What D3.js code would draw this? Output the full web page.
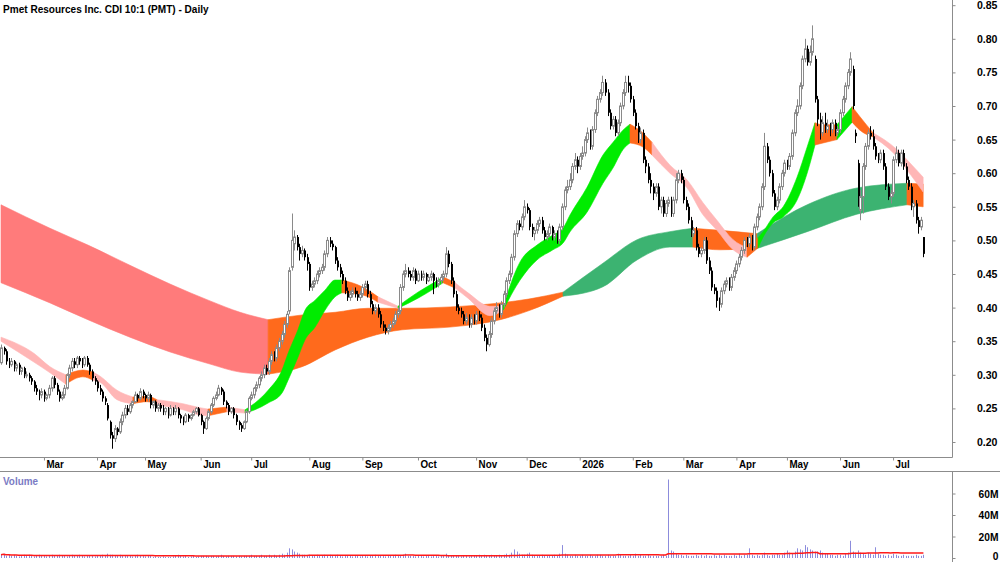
<!DOCTYPE html>
<html><head><meta charset="utf-8">
<script src="https://cdn.jsdelivr.net/npm/d3@7"></script>
<style>
body{margin:0;background:#fff;}
svg{display:block;font-family:Arial,"Liberation Sans",sans-serif;}
</style></head><body>
<svg id="c" width="1000" height="562"></svg>
<script>
// ---- daily candles (trading day index 0..365) ----
const open=[
.318,.340,.335,.320,.315,.320,.310,.315,.305,.310,
.300,.300,.295,.290,.280,.275,.270,.275,.265,.270,
.280,.295,.285,.275,.265,.270,.280,.300,.310,.320,
.315,.325,.320,.315,.325,.315,.305,.295,.290,.280,
.275,.265,.255,.230,.210,.205,.220,.215,.230,.240,
.250,.245,.255,.260,.270,.265,.275,.270,.265,.270,
.255,.260,.250,.255,.250,.245,.250,.240,.250,.245,
.250,.240,.235,.230,.240,.235,.240,.245,.250,.240,
.230,.220,.235,.245,.255,.265,.270,.280,.275,.260,
.255,.245,.250,.240,.230,.225,.220,.230,.245,.265,
.270,.280,.285,.295,.300,.310,.305,.320,.330,.325,
.340,.350,.360,.375,.395,.460,.495,.505,.490,.480,
.485,.475,.465,.430,.435,.440,.450,.455,.460,.480,
.500,.495,.490,.470,.460,.450,.440,.425,.415,.420,
.425,.420,.415,.420,.430,.435,.420,.405,.395,.400,
.390,.375,.370,.365,.370,.375,.380,.390,.395,.430,
.450,.455,.450,.445,.455,.440,.450,.445,.450,.440,
.445,.450,.440,.435,.440,.445,.450,.480,.465,.440,
.420,.400,.395,.390,.380,.385,.375,.385,.380,.390,
.385,.370,.355,.345,.360,.380,.395,.400,.390,.405,
.420,.440,.450,.475,.510,.525,.520,.535,.550,.545,
.520,.510,.515,.525,.530,.515,.505,.510,.520,.505,
.510,.500,.520,.550,.575,.580,.590,.610,.620,.610,
.625,.630,.650,.660,.640,.665,.690,.710,.720,.735,
.720,.690,.670,.680,.660,.675,.700,.720,.735,.730,
.710,.690,.670,.650,.660,.620,.610,.590,.580,.570,
.580,.550,.560,.540,.555,.560,.540,.560,.590,.600,
.590,.560,.550,.530,.510,.515,.490,.480,.485,.500,
.470,.455,.430,.425,.410,.405,.425,.435,.440,.430,
.445,.455,.465,.475,.485,.500,.495,.505,.490,.520,
.535,.550,.580,.640,.620,.600,.570,.550,.560,.580,
.600,.615,.610,.625,.660,.690,.700,.730,.770,.785,
.765,.780,.770,.710,.680,.660,.675,.665,.670,.665,
.675,.660,.665,.690,.710,.730,.750,.755,.660,.615,
.545,.565,.610,.640,.660,.655,.640,.625,.620,.630,
.610,.580,.565,.570,.620,.630,.615,.630,.610,.590,
.580,.550,.555,.530,.520,.505];
const high=[
.345,.342,.338,.325,.325,.322,.318,.318,.312,.312,
.305,.303,.298,.292,.285,.278,.280,.278,.272,.285,
.298,.298,.288,.278,.275,.285,.302,.315,.325,.325,
.328,.328,.325,.328,.328,.318,.308,.298,.292,.285,
.278,.268,.258,.232,.215,.225,.222,.235,.245,.255,
.255,.258,.262,.275,.272,.280,.278,.272,.275,.272,
.262,.262,.258,.258,.255,.252,.252,.255,.252,.255,
.252,.242,.238,.243,.242,.242,.248,.252,.252,.242,
.232,.238,.248,.258,.268,.275,.285,.282,.278,.262,
.258,.252,.252,.242,.232,.228,.232,.248,.268,.275,
.282,.290,.298,.305,.315,.315,.325,.335,.335,.345,
.355,.365,.380,.395,.460,.540,.515,.508,.495,.492,
.488,.480,.468,.440,.445,.455,.460,.465,.485,.505,
.505,.500,.492,.475,.465,.455,.445,.430,.425,.430,
.430,.425,.425,.435,.440,.440,.425,.410,.405,.405,
.395,.380,.375,.375,.380,.385,.395,.400,.435,.455,
.465,.460,.455,.460,.458,.455,.455,.455,.452,.450,
.455,.452,.445,.445,.450,.455,.490,.485,.468,.445,
.425,.405,.400,.395,.392,.390,.390,.390,.395,.395,
.390,.375,.360,.365,.385,.400,.408,.405,.410,.425,
.445,.455,.480,.515,.530,.530,.540,.560,.555,.548,
.525,.520,.530,.535,.535,.520,.515,.525,.522,.515,
.515,.525,.555,.580,.590,.600,.615,.630,.625,.630,
.640,.655,.668,.665,.670,.695,.715,.725,.745,.740,
.725,.695,.685,.685,.680,.705,.725,.745,.745,.735,
.715,.695,.675,.668,.665,.625,.615,.600,.585,.585,
.585,.565,.565,.560,.565,.565,.565,.600,.605,.605,
.595,.565,.555,.535,.520,.520,.495,.490,.505,.505,
.475,.460,.435,.430,.415,.430,.440,.445,.445,.450,
.460,.470,.480,.490,.505,.505,.510,.508,.525,.540,
.555,.585,.660,.645,.625,.605,.575,.565,.585,.605,
.620,.620,.630,.665,.695,.710,.735,.775,.800,.790,
.790,.820,.775,.715,.690,.685,.690,.680,.675,.680,
.680,.670,.695,.715,.735,.755,.780,.760,.665,.620,
.575,.615,.645,.665,.670,.665,.645,.630,.635,.635,
.615,.585,.575,.625,.640,.635,.635,.635,.615,.595,
.585,.560,.560,.535,.535,.505];
const low=[
.315,.330,.315,.310,.312,.305,.305,.300,.300,.295,
.295,.290,.285,.275,.270,.262,.265,.260,.262,.265,
.275,.280,.270,.260,.262,.265,.278,.295,.305,.310,
.310,.315,.310,.312,.312,.300,.290,.285,.275,.270,
.260,.255,.232,.205,.190,.200,.210,.212,.225,.235,
.240,.242,.250,.258,.260,.262,.265,.260,.260,.250,
.250,.245,.245,.245,.240,.240,.235,.238,.240,.240,
.235,.228,.225,.228,.230,.232,.238,.242,.238,.225,
.212,.218,.232,.242,.252,.262,.268,.270,.255,.250,
.240,.242,.235,.225,.218,.215,.218,.228,.242,.262,
.265,.275,.280,.290,.295,.300,.300,.315,.320,.320,
.335,.345,.355,.370,.390,.455,.485,.485,.470,.475,
.470,.455,.425,.425,.430,.435,.445,.450,.455,.475,
.490,.485,.465,.455,.445,.435,.420,.410,.410,.415,
.415,.410,.410,.415,.425,.415,.400,.390,.390,.385,
.370,.365,.360,.360,.365,.370,.375,.385,.390,.425,
.445,.445,.440,.440,.435,.438,.440,.440,.435,.438,
.440,.420,.430,.430,.435,.440,.445,.460,.435,.415,
.395,.390,.385,.375,.375,.370,.370,.375,.375,.380,
.365,.350,.335,.342,.355,.375,.390,.385,.385,.400,
.415,.435,.445,.470,.505,.515,.515,.530,.540,.515,
.505,.500,.510,.520,.510,.500,.500,.505,.500,.500,
.495,.495,.515,.545,.570,.575,.585,.605,.600,.605,
.620,.625,.645,.635,.635,.660,.685,.705,.715,.715,
.685,.665,.665,.655,.655,.670,.695,.715,.720,.705,
.685,.665,.645,.645,.615,.600,.585,.570,.560,.565,
.545,.540,.535,.535,.550,.535,.535,.555,.585,.585,
.555,.545,.525,.505,.505,.485,.475,.475,.480,.465,
.450,.425,.420,.400,.395,.400,.420,.430,.425,.425,
.440,.450,.460,.470,.480,.490,.490,.485,.485,.515,
.530,.545,.575,.615,.595,.565,.545,.545,.555,.575,
.595,.605,.605,.620,.655,.685,.695,.725,.765,.760,
.760,.775,.705,.670,.650,.655,.660,.660,.655,.660,
.655,.655,.660,.685,.705,.725,.745,.695,.645,.550,
.530,.540,.605,.635,.650,.635,.620,.615,.615,.605,
.575,.560,.555,.565,.615,.610,.610,.605,.585,.575,
.545,.535,.525,.510,.515,.475];
const close=[
.340,.335,.320,.315,.320,.310,.315,.305,.310,.300,
.300,.295,.290,.280,.275,.270,.275,.265,.270,.280,
.295,.285,.275,.265,.270,.280,.300,.310,.320,.315,
.325,.320,.315,.325,.315,.305,.295,.290,.280,.275,
.265,.260,.235,.210,.205,.220,.215,.230,.240,.250,
.245,.255,.260,.270,.265,.275,.270,.265,.270,.255,
.260,.250,.255,.250,.245,.250,.240,.250,.245,.250,
.240,.235,.230,.240,.235,.240,.245,.250,.240,.230,
.220,.235,.245,.255,.265,.270,.280,.275,.260,.255,
.245,.250,.240,.230,.225,.220,.230,.245,.265,.270,
.280,.285,.295,.300,.310,.305,.320,.330,.325,.340,
.350,.360,.375,.390,.455,.500,.505,.490,.480,.485,
.475,.465,.430,.435,.440,.450,.455,.460,.480,.500,
.495,.490,.470,.460,.450,.440,.425,.415,.420,.425,
.420,.415,.420,.430,.435,.420,.405,.395,.400,.390,
.375,.370,.365,.370,.375,.380,.390,.395,.430,.450,
.455,.450,.445,.455,.440,.450,.445,.450,.440,.445,
.450,.440,.435,.440,.445,.450,.480,.465,.440,.420,
.400,.395,.390,.380,.385,.375,.385,.380,.390,.385,
.370,.355,.345,.360,.380,.395,.400,.390,.405,.420,
.440,.450,.475,.510,.525,.520,.535,.550,.545,.520,
.510,.515,.525,.530,.515,.505,.510,.520,.505,.510,
.500,.520,.550,.575,.580,.590,.610,.620,.610,.625,
.630,.650,.660,.640,.665,.690,.710,.720,.735,.720,
.690,.670,.680,.660,.675,.700,.720,.735,.730,.710,
.690,.670,.650,.660,.620,.610,.590,.580,.570,.580,
.550,.560,.540,.555,.560,.540,.560,.590,.600,.590,
.560,.550,.530,.510,.515,.490,.480,.485,.500,.470,
.455,.430,.425,.410,.405,.425,.435,.440,.430,.445,
.455,.465,.475,.485,.500,.495,.505,.490,.520,.535,
.550,.580,.640,.620,.600,.570,.550,.560,.580,.600,
.615,.610,.625,.660,.690,.700,.730,.770,.785,.765,
.780,.800,.710,.680,.660,.675,.665,.670,.665,.675,
.660,.665,.690,.710,.730,.750,.770,.700,.655,.560,
.565,.610,.640,.660,.655,.640,.625,.620,.630,.610,
.580,.565,.570,.620,.630,.615,.630,.610,.590,.580,
.550,.555,.530,.520,.530,.480];
// volume in millions
const volume=[
3,4,2,3,2,3,2,1.5,2,3, 2,3,2,1.5,2,3,2,2,1.5,2, 3,2,2,3,2,2,1.5,2,3,2,
2,3,2,1.5,2,2,2,1.5,2,2, 3,2,4,3,3,2,2,3,2,2, 2,2,1.5,2,3,2,2,1.5,2,2,
1,1.5,1,1,1.5,1,1,1,1.5,2, 3,2,1.5,2,1,1.5,2,1,1.5,2, 2,2,1.5,2,2,1.5,2,3,2,1.5,
2,2,2,1.5,2,1.5,2,2,2,3, 2,2,2,3,2,2,3,2,3,2, 3,4,3,5,9,8,6,5,4,3,
3,2,3,2,2,3,2,2,3,2, 3,2,2,3,2,1.5,2,2,2,1.5, 2,2,1.5,2,2,1.5,2,2,3,2,
2,2,1.5,2,2,2,3,2,2,3, 4,2,2,2,1.5,2,2,1.5,2,2, 1.5,2,2,1.5,2,2,4,2,2,2,
2,2,1.5,2,2,1.5,2,2,2,3, 2,3,2,2,3,2,2,3,2,3, 4,3,5,8,6,4,3,3,4,5,
3,2,2,2,3,2,2,2,2,3, 2,4,12,4,3,2,2,3,2,2, 3,2,2,3,2,2,3,3,2,2,
3,2,2,2,4,3,2,2,2,3, 2,4,2,3,2,2,3,2,2,2, 2,2,3,2,73,7,6,4,3,3,
2,3,2,2,2,3,2,3,2,3, 2,2,3,2,3,2,3,2,2,2, 3,2,4,2,3,3,9,3,2,3,
2,3,5,3,2,3,3,4,3,3, 5,7,5,4,6,9,8,7,12,10, 8,7,6,6,7,5,4,4,3,3,
2,3,3,2,4,5,16,6,5,7, 5,4,3,5,4,3,10,4,3,3, 2,3,2,4,3,2,2,3,2,2,
2,2,3,2,2,3];

// ---- month axis ----
const monthLabels=["Mar","Apr","May","Jun","Jul","Aug","Sep","Oct","Nov","Dec","2026","Feb","Mar","Apr","May","Jun","Jul"];
const monthIdx=[17,38,57,79,99,122,143,165,188,208,229,250,270,291,311,332,353];
const priceTicks=[0.20,0.25,0.30,0.35,0.40,0.45,0.50,0.55,0.60,0.65,0.70,0.75,0.80,0.85];
const volTicks=[0,20,40,60];

// ---- short-term MMA ribbon ----
const shortIdx=[0,13,19.4,25.7,32.4,36.4,39.2,45.9,52.2,57.8,61.7,72,78.8,81.9,89.4,96.6,100.5,105.7,111.2,113.6,117.5,120.3,124.3,128.2,132.2,134.9,142.9,149.2,157.1,165,171.7,174.9,179.7,184.8,193.5,198.7,205.4,212.1,218.4,222.4,225.2,231.9,238.2,242.2,246.1,248.9,254,257.6,264.7,271.5,277.8,283.3,289.7,295.2,299.6,301.6,305.5,309.5,315,319,322.1,325.3,330.8,336.8,339.9,345.1,354.6,358.5,364.9];
const shortTop=[.356,.332,.312,.300,.307,.304,.298,.277,.267,.268,.263,.257,.251,.249,.252,.248,.258,.277,.307,.332,.367,.396,.411,.426,.441,.441,.431,.416,.402,.423,.438,.446,.437,.422,.402,.402,.468,.493,.508,.518,.538,.579,.627,.646,.664,.673,.660,.646,.612,.590,.556,.530,.501,.489,.504,.513,.535,.550,.594,.639,.675,.672,.672,.699,.684,.660,.635,.620,.594];
const shortBot=[.350,.319,.303,.286,.297,.292,.289,.263,.257,.260,.255,.248,.240,.239,.245,.243,.248,.258,.273,.292,.326,.352,.371,.396,.416,.422,.419,.408,.399,.414,.429,.437,.429,.414,.388,.396,.441,.471,.486,.496,.513,.542,.585,.608,.635,.645,.639,.627,.600,.578,.538,.515,.486,.475,.489,.505,.526,.535,.560,.600,.642,.645,.650,.676,.664,.654,.624,.605,.572];
const shortState=["P","P","P","O","O","P","P","P","O","O","P","P","P","O","P","G","G","G","G","G","G","G","G","G","G","O","O","P","G","G","G","O","P","P","P","G","G","G","G","G","G","G","G","G","G","O","O","P","P","P","P","P","P","O","G","G","G","G","G","G","O","O","G","O","O","P","P","P","P"];

// ---- long-term MMA ribbon ----
const longIdx=[0,19.4,34.4,51,66.9,82.7,94.6,105.7,119.1,132.2,145.2,158.7,177.7,197.5,209.3,222.4,238.2,251.7,264.7,273.8,284.5,299.2,319,338.7,358.5,364.9];
const longTop=[.553,.518,.493,.463,.435,.410,.393,.382,.389,.393,.399,.399,.401,.407,.413,.423,.466,.501,.513,.518,.515,.510,.553,.578,.585,.584];
const longBot=[.437,.407,.382,.356,.334,.316,.304,.301,.312,.337,.356,.367,.371,.382,.396,.417,.431,.471,.490,.490,.486,.488,.513,.539,.553,.550];
const longState=["R","R","R","R","R","R","R","O","O","O","O","O","O","O","O","D","D","D","D","O","O","D","D","D","O","O"];

// volume moving average (red line) period
const maPeriod=60;

const shortColors={G:"#00ec00",O:"#ff6a1c",P:"#ffb6b6"};
const longColors={R:"#ff7b7b",O:"#ff6a1c",D:"#3cb371"};

const svg=d3.select("#c");
const W=1000,H=562,AX=952.5;
const x=d3.scaleLinear().domain([0,365]).range([1,923.4]);
const y=d3.scaleLinear().domain([0.20,0.85]).range([442,5.2]);
const yv=d3.scaleLinear().domain([0,80]).range([558,472]);

const defs=svg.append("defs");
defs.append("clipPath").attr("id","mainclip").append("rect").attr("x",0).attr("y",0).attr("width",952).attr("height",457);
defs.append("clipPath").attr("id","volclip").append("rect").attr("x",0).attr("y",472).attr("width",952).attr("height",90);

const main=svg.append("g").attr("clip-path","url(#mainclip)");

function drawBand(idx,top,bot,state,colors){
  const n=idx.length;let start=0;
  const area=d3.area().x(j=>x(idx[j])).y0(j=>y(bot[j])).y1(j=>y(top[j])).curve(d3.curveMonotoneX);
  for(let k=1;k<n;k++){
    if(k===n-1||state[k]!==state[start]){
      const pts=d3.range(start,k+1);
      const c=colors[state[start]];
      main.append("path").datum(pts).attr("d",area).attr("fill",c).attr("stroke",c).attr("stroke-width",0.6);
      start=k;
    }
  }
}
drawBand(longIdx,longTop,longBot,longState,longColors);
drawBand(shortIdx,shortTop,shortBot,shortState,shortColors);

// candles
const cg=main.append("g");
close.forEach((c,i)=>{
  const o=open[i],h=high[i],l=low[i];
  const px=Math.round(x(i));
  const up=c>=o;
  cg.append("line").attr("x1",px+0.5).attr("x2",px+0.5).attr("y1",y(h)).attr("y2",y(l))
    .attr("stroke",up?"#8a8a8a":"#000").attr("stroke-width",1);
  const yt=y(Math.max(o,c)),yb=y(Math.min(o,c));
  if(up){
    cg.append("rect").attr("x",px-0.5).attr("width",2).attr("y",yt).attr("height",Math.max(1,yb-yt))
      .attr("fill","#fff").attr("stroke","#8a8a8a").attr("stroke-width",1);
  }else{
    cg.append("rect").attr("x",px).attr("width",2).attr("y",yt).attr("height",Math.max(1.5,yb-yt))
      .attr("fill","#000");
  }
});

// volume
const vg=svg.append("g").attr("clip-path","url(#volclip)");
volume.forEach((v,i)=>{
  const px=Math.round(x(i))+0.5;
  vg.append("line").attr("x1",px).attr("x2",px).attr("y1",yv(0)).attr("y2",yv(v)).attr("stroke","#8c8cdc").attr("stroke-width",1);
});
const ma=volume.map((v,i)=>d3.mean(volume.slice(Math.max(0,i-maPeriod+1),i+1)));
vg.append("path").datum(ma).attr("fill","none").attr("stroke","#ff1a1a").attr("stroke-width",1.5)
  .attr("d",d3.line().x((d,i)=>x(i)).y(d=>yv(d)));

// frame lines
const lc="#8c8c8c";
svg.append("line").attr("x1",0).attr("x2",AX).attr("y1",457.5).attr("y2",457.5).attr("stroke",lc);
svg.append("line").attr("x1",0).attr("x2",W).attr("y1",471.5).attr("y2",471.5).attr("stroke",lc);
svg.append("line").attr("x1",AX).attr("x2",AX).attr("y1",0).attr("y2",457.5).attr("stroke",lc);
svg.append("line").attr("x1",AX).attr("x2",AX).attr("y1",471.5).attr("y2",H).attr("stroke",lc);

function condense(sel,ratio){
  sel.each(function(){const L=this.getComputedTextLength();d3.select(this).attr("textLength",L*ratio).attr("lengthAdjust","spacingAndGlyphs");});
}

// price axis
const pa=svg.append("g").attr("transform",`translate(${AX},0)`)
  .call(d3.axisRight(y).tickValues(priceTicks).tickSize(3).tickFormat(d3.format(".2f")));
pa.select(".domain").remove();
pa.selectAll(".tick line").attr("stroke",lc);
pa.selectAll(".tick text").attr("x",45).attr("text-anchor","end").attr("fill","#000")
  .style("font","bold 11px Arial, 'Liberation Sans', sans-serif");
condense(pa.selectAll(".tick text"),0.96);

// volume axis
const va=svg.append("g").attr("transform",`translate(${AX},0)`)
  .call(d3.axisRight(yv).tickValues(volTicks).tickSize(3).tickFormat(d=>d===0?"0":d+"M"));
va.select(".domain").remove();
va.selectAll(".tick line").attr("stroke",lc);
va.selectAll(".tick text").attr("x",46).attr("text-anchor","end").attr("fill","#000")
  .style("font","bold 11px Arial, 'Liberation Sans', sans-serif");
va.selectAll(".tick text").filter(d=>d===0).attr("dy","0.1em");
condense(va.selectAll(".tick text"),0.93);

// date axis
const da=svg.append("g").attr("transform","translate(0,457.5)")
  .call(d3.axisBottom(x).tickValues(monthIdx).tickSize(3).tickFormat((d,i)=>monthLabels[i]));
da.select(".domain").remove();
da.selectAll(".tick line").attr("stroke",lc);
da.selectAll(".tick text").attr("x",2).attr("y",2.5).attr("text-anchor","start").attr("fill","#000")
  .style("font","bold 11px Arial, 'Liberation Sans', sans-serif");
condense(da.selectAll(".tick text"),0.89);

// title & volume label
const title=svg.append("text").attr("x",3).attr("y",12.5).text("Pmet Resources Inc. CDI 10:1 (PMT) - Daily")
  .style("font","bold 11.3px Arial, 'Liberation Sans', sans-serif").attr("fill","#000");
condense(title,0.89);
const vl=svg.append("text").attr("x",3).attr("y",485).text("Volume")
  .style("font","bold 11px Arial, 'Liberation Sans', sans-serif").attr("fill","#7b7bc4");
condense(vl,0.9);
</script>
</body></html>
